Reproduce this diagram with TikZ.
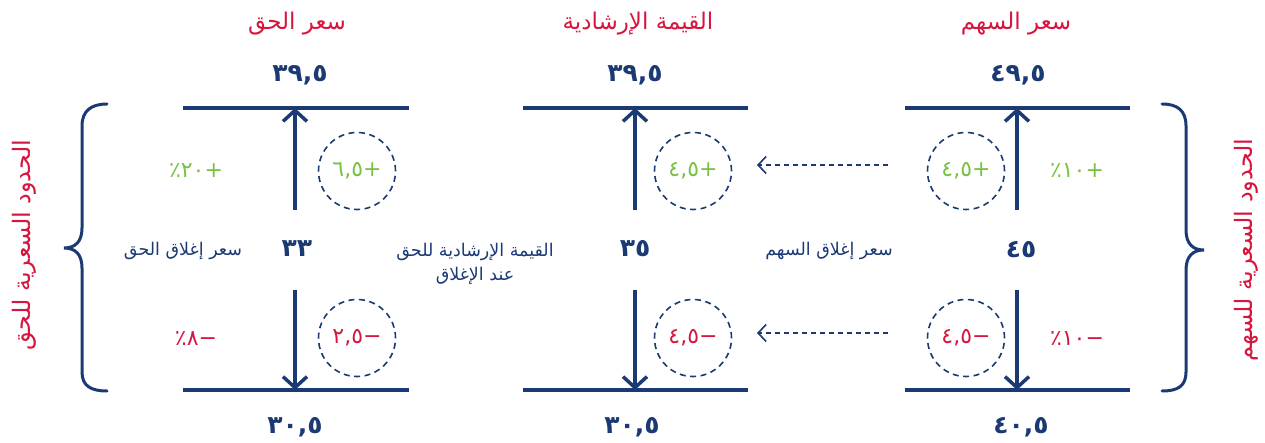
\documentclass[tikz,border=0pt]{standalone}
\usepackage{fontspec}
\setmainfont{DejaVu Sans}
\newfontfamily\arabicfont[Script=Arabic]{DejaVu Sans}
\TeXXeTstate=1
\usetikzlibrary{arrows.meta}
\definecolor{navy}{RGB}{27,57,115}
\definecolor{crim}{RGB}{214,22,62}
\definecolor{lgreen}{RGB}{122,193,67}
\begin{document}
\begin{tikzpicture}[x=1pt,y=-1pt,
  ttl/.style={text=crim, font=\arabicfont\fontsize{23}{27}\selectfont, inner sep=0pt},
  num/.style={text=navy, font=\arabicfont\bfseries\fontsize{25}{29}\selectfont, inner sep=0pt},
  lbl/.style={text=navy, font=\arabicfont\fontsize{17.5}{24}\selectfont, inner sep=0pt, align=center},
  posval/.style={text=lgreen, font=\arabicfont\fontsize{22}{26}\selectfont, inner sep=0pt},
  negval/.style={text=crim, font=\arabicfont\fontsize{22}{26}\selectfont, inner sep=0pt},
  pctpos/.style={text=lgreen, font=\arabicfont\fontsize{22}{26}\selectfont, inner sep=0pt},
  pctneg/.style={text=crim, font=\arabicfont\fontsize{22}{26}\selectfont, inner sep=0pt},
  sidetxt/.style={text=crim, font=\arabicfont\fontsize{24}{28}\selectfont, inner sep=0pt, rotate=90},
  dcircle/.style={circle, draw=navy, line width=1.6pt, dash pattern=on 6pt off 4.5pt, minimum size=77pt, inner sep=0pt},
  hline/.style={draw=navy, line width=4pt},
  varrow/.style={draw=navy, line width=3.5pt, -{Straight Barb[length=11pt,width=24pt,line width=3.5pt]}},
  darrow/.style={draw=navy, line width=1.6pt, dash pattern=on 5pt off 4pt, -{Straight Barb[length=8pt,width=17pt,line width=1.6pt]}},
  brace/.style={draw=navy, line width=3pt, line cap=round}
]
\useasboundingbox (0,0) rectangle (1265,443);

% titles
\node[ttl] (t1) at (297,24) {\beginR سعر الحق\endR};
\node[ttl] (t2) at (638,24) {\beginR القيمة الإرشادية\endR};
\node[ttl] (t3) at (1016,24) {\beginR سعر السهم\endR};

% top numbers
\node[num] (u1) at (300,75) {٣٩,٥};
\node[num] (u2) at (635,75) {٣٩,٥};
\node[num] (u3) at (1018,75) {٤٩,٥};

% bottom numbers
\node[num] (d1) at (295,427) {٣٠,٥};
\node[num] (d2) at (632,427) {٣٠,٥};
\node[num] (d3) at (1021,427) {٤٠,٥};

% middle numbers
\node[num] (m1) at (297,249) {٣٣};
\node[num] (m2) at (635,249) {٣٥};
\node[num] (m3) at (1021,250) {٤٥};

% horizontal lines
\coordinate (l1a) at (183,108); \coordinate (l1b) at (409,108);
\coordinate (l2a) at (523,108); \coordinate (l2b) at (748,108);
\coordinate (l3a) at (905,108); \coordinate (l3b) at (1130,108);
\coordinate (b1a) at (183,390); \coordinate (b1b) at (409,390);
\coordinate (b2a) at (523,390); \coordinate (b2b) at (748,390);
\coordinate (b3a) at (905,390); \coordinate (b3b) at (1130,390);
\draw[hline] (l1a) -- (l1b);
\draw[hline] (l2a) -- (l2b);
\draw[hline] (l3a) -- (l3b);
\draw[hline] (b1a) -- (b1b);
\draw[hline] (b2a) -- (b2b);
\draw[hline] (b3a) -- (b3b);

% vertical arrows
\coordinate (s1u) at (295,210); \coordinate (e1u) at (295,108);
\coordinate (s1d) at (295,290); \coordinate (e1d) at (295,390);
\coordinate (s2u) at (635,210); \coordinate (e2u) at (635,108);
\coordinate (s2d) at (635,290); \coordinate (e2d) at (635,390);
\coordinate (s3u) at (1017,210); \coordinate (e3u) at (1017,108);
\coordinate (s3d) at (1017,290); \coordinate (e3d) at (1017,390);
\draw[varrow] (s1u) -- (e1u);
\draw[varrow] (s1d) -- (e1d);
\draw[varrow] (s2u) -- (e2u);
\draw[varrow] (s2d) -- (e2d);
\draw[varrow] (s3u) -- (e3u);
\draw[varrow] (s3d) -- (e3d);

% dashed circles with changes
\node[dcircle] (c1u) at (357,171) {};
\node[dcircle] (c1d) at (357,338) {};
\node[dcircle] (c2u) at (693,171) {};
\node[dcircle] (c2d) at (693,338) {};
\node[dcircle] (c3u) at (966,171) {};
\node[dcircle] (c3d) at (966,338) {};
\node[posval] (v1u) at (c1u) {+٦,٥};
\node[negval] (v1d) at (c1d) {−٢,٥};
\node[posval] (v2u) at (c2u) {+٤,٥};
\node[negval] (v2d) at (c2d) {−٤,٥};
\node[posval] (v3u) at (c3u) {+٤,٥};
\node[negval] (v3d) at (c3d) {−٤,٥};

% percentages
\node[pctpos] (p1u) at (196,171) {+٢٠٪};
\node[pctneg] (p1d) at (196,339) {−٨٪};
\node[pctpos] (p3u) at (1077,171) {+١٠٪};
\node[pctneg] (p3d) at (1077,339) {−١٠٪};

% dashed arrows
\coordinate (a1s) at (888,165); \coordinate (a1e) at (757,165);
\coordinate (a2s) at (888,333); \coordinate (a2e) at (757,333);
\draw[darrow] (a1s) -- (a1e);
\draw[darrow] (a2s) -- (a2e);

% side labels
\node[lbl] (n1) at (183,251) {\beginR سعر إغلاق الحق\endR};
\node[lbl] (n2) at (475,264) {\beginR القيمة الإرشادية للحق\endR\\\beginR عند الإغلاق\endR};
\node[lbl] (n3) at (829,251) {\beginR سعر إغلاق السهم\endR};

% braces
\draw[brace] (107,104) .. controls (91,104) and (82,111) .. (82,126) -- (82,228) .. controls (82,242) and (75,248) .. (64,248) .. controls (75,248) and (82,254) .. (82,268) -- (82,372) .. controls (82,386) and (91,391) .. (107,391);
\draw[brace] (1162,104) .. controls (1178,104) and (1186,111) .. (1186,126) -- (1186,230) .. controls (1186,244) and (1193,250) .. (1204,250) .. controls (1193,250) and (1186,256) .. (1186,270) -- (1186,372) .. controls (1186,386) and (1178,391) .. (1162,391);

% vertical side texts
\node[sidetxt] (sl) at (24,245) {\beginR الحدود السعرية للحق\endR};
\node[sidetxt] (sr) at (1246,250) {\beginR الحدود السعرية للسهم\endR};
\end{tikzpicture}
\end{document}
